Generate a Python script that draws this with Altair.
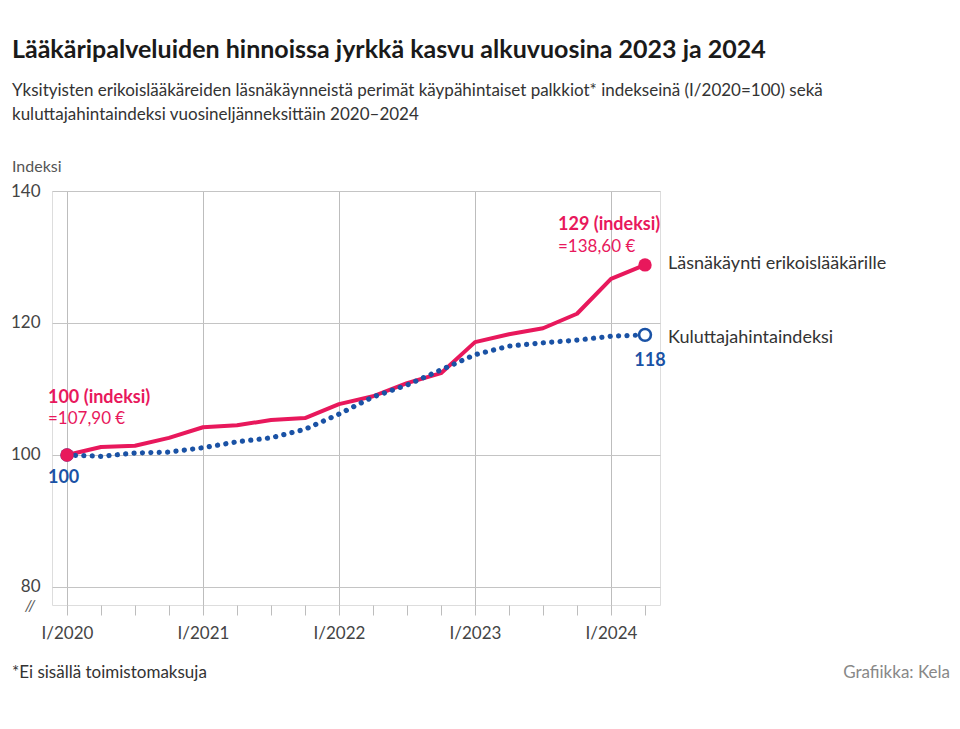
import altair as alt
import pandas as pd

# ---------------- data ----------------
quarters = ["I/2020", "II/2020", "III/2020", "IV/2020",
            "I/2021", "II/2021", "III/2021", "IV/2021",
            "I/2022", "II/2022", "III/2022", "IV/2022",
            "I/2023", "II/2023", "III/2023", "IV/2023",
            "I/2024", "II/2024"]
laakari = [100.0, 101.2, 101.4, 102.6, 104.2, 104.5, 105.3, 105.6, 107.7,
           108.9, 110.9, 112.4, 117.1, 118.3, 119.2, 121.4, 126.7, 128.8]
kuluttaja = [100.0, 99.8, 100.3, 100.45, 101.1, 102.0, 102.6, 103.9, 106.2,
             108.8, 110.6, 112.9, 115.2, 116.5, 117.0, 117.4, 118.0, 118.2]
series_names = ["Läsnäkäynti erikoislääkärille", "Kuluttajahintaindeksi"]
y_ticks = [80, 100, 120, 140]

title_text = ["Lääkäripalveluiden hinnoissa jyrkkä kasvu alkuvuosina 2023 ja 2024"]
subtitle_text = ["Yksityisten erikoislääkäreiden läsnäkäynneistä perimät käypähintaiset palkkiot* indekseinä (I/2020=100) sekä",
                 "kuluttajahintaindeksi vuosineljänneksittäin 2020–2024"]
y_title = ["Indeksi"]
footnote = ["*Ei sisällä toimistomaksuja"]
source = ["Grafiikka: Kela"]
start_label = ["100 (indeksi)", "=107,90 €", "100"]
end_label = ["129 (indeksi)", "=138,60 €", "118"]

PINK = "#e8185c"
BLUE = "#1a52a5"
TEXT = "#333333"
FONT = "Lato"

idx = list(range(len(quarters)))
df_l = pd.DataFrame({"i": idx, "v": laakari})
df_k = pd.DataFrame({"i": idx, "v": kuluttaja})

xscale = alt.Scale(domain=[-0.441, 17.441], nice=False, zero=False)
yscale = alt.Scale(domain=[77.27, 140], nice=False, zero=False)

xaxis = alt.Axis(
    values=idx, domain=False, grid=True, gridColor="#bdbdbd",
    gridOpacity={"condition": {"test": "datum.value % 4 === 0", "value": 1}, "value": 0},
    ticks=True, tickSize=10, tickColor="#bdbdbd",
    labelExpr="datum.value % 4 === 0 ? 'I/' + (2020 + datum.value / 4) : ''",
    labelFontSize=17, labelColor="#444444", labelPadding=10, labelFont=FONT,
    labelOverlap=False, labelFlush=False, title=None)
yaxis = alt.Axis(
    values=y_ticks, domain=False, ticks=False, grid=True, gridColor="#c4c4c4",
    labelFontSize=17, labelColor="#444444", labelPadding=12, labelFont=FONT, title=None)


def X():
    return alt.X("i:Q", scale=xscale, axis=xaxis, title=None)


def Y():
    return alt.Y("v:Q", scale=yscale, axis=yaxis, title=None)


line_l = alt.Chart(df_l).mark_line(color=PINK, strokeWidth=4, strokeJoin="round").encode(x=X(), y=Y())
line_k = alt.Chart(df_k).mark_line(color=BLUE, strokeWidth=5.2, strokeDash=[0.1, 8.3],
                                   strokeCap="round").encode(x=X(), y=Y())

start_k = alt.Chart(df_k.iloc[[0]]).mark_point(shape="circle", filled=True, size=180, color=BLUE,
                                              opacity=1).encode(x=X(), y=Y())
start_l = alt.Chart(df_l.iloc[[0]]).mark_point(shape="circle", filled=True, size=180, color=PINK,
                                              opacity=1).encode(x=X(), y=Y())
end_l = alt.Chart(df_l.iloc[[-1]]).mark_point(shape="circle", filled=True, size=180, color=PINK,
                                             opacity=1).encode(x=X(), y=Y())
end_k = alt.Chart(df_k.iloc[[-1]]).mark_point(shape="circle", filled=True, size=140, fill="white",
                                             stroke=BLUE, strokeWidth=2.6, opacity=1).encode(x=X(), y=Y())


def anno(df, text, color, size, bold, dx, dy, align="left"):
    d = df.copy()
    d["t"] = text
    return alt.Chart(d).mark_text(align=align, baseline="middle", dx=dx, dy=dy, color=color,
                                  fontSize=size, font=FONT,
                                  fontWeight="bold" if bold else "normal").encode(
        x=X(), y=Y(), text="t:N")


a1 = anno(df_l.iloc[[0]], start_label[0], PINK, 18, True, -19, -57)
a2 = anno(df_l.iloc[[0]], start_label[1], PINK, 17, False, -19, -36)
a3 = anno(df_k.iloc[[0]], start_label[2], BLUE, 18, True, -19, 23)
a4 = anno(df_l.iloc[[-1]], end_label[0], PINK, 18, True, -87, -40)
a5 = anno(df_l.iloc[[-1]], end_label[1], PINK, 17, False, -87, -18)
a6 = anno(df_k.iloc[[-1]], end_label[2], BLUE, 18, True, 5, 26, align="center")
a7 = anno(df_l.iloc[[-1]], series_names[0], TEXT, 18, False, 23, -1)
a8 = anno(df_k.iloc[[-1]], series_names[1], TEXT, 18, False, 23, 3)


def free_text(lines, x, y0, size, color, bold=False, align="left"):
    d = pd.DataFrame({"t": lines})
    return alt.Chart(d).mark_text(align=align, baseline="middle", fontSize=size, font=FONT,
                                  color=color, fontWeight="bold" if bold else "normal").encode(
        x=alt.value(x), y=alt.value(y0), text="t:N")


t_title = free_text(title_text, -40, -141, 25, "#1a1a1a", bold=True)
t_sub1 = free_text([subtitle_text[0]], -40, -100, 17, TEXT)
t_sub2 = free_text([subtitle_text[1]], -40, -76, 17, TEXT)
t_ytitle = free_text(y_title, -40, -24, 16, "#555555")
t_foot = free_text(footnote, -40, 482, 17, TEXT)
t_src = free_text(source, 898, 482, 17, "#888888", align="right")
t_break = alt.Chart(pd.DataFrame({"t": ["//"]})).mark_text(
    align="center", baseline="middle", fontSize=16, font=FONT, fontStyle="italic", color="#555555").encode(
    x=alt.value(-22), y=alt.value(415), text="t:N")

chart = alt.layer(
    line_l, line_k, start_k, start_l, end_l, end_k,
    a1, a2, a3, a4, a5, a6, a7, a8,
    t_title, t_sub1, t_sub2, t_ytitle, t_foot, t_src, t_break
).properties(
    width=608, height=414,
    autosize=alt.AutoSizeParams(type="none"),
    padding={"left": 44, "top": 183, "right": 292, "bottom": 116},
).configure_view(stroke=None).configure(background="white")

chart.save("out.html", embed_options={"renderer": "svg", "actions": False})
